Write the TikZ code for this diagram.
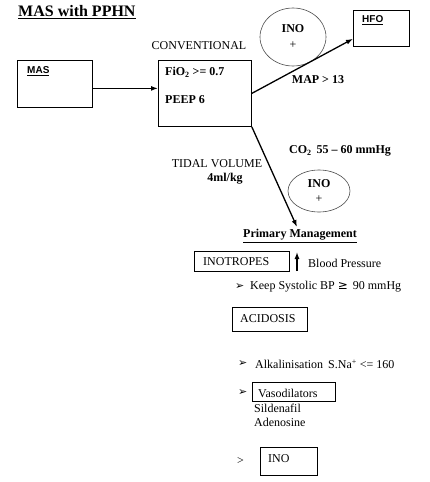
\documentclass[tikz,border=0pt]{standalone}
\usepackage{fontspec}
\setmainfont{Liberation Serif}
\newfontfamily\arialfont{Liberation Sans}
\newfontfamily\symfont{DejaVu Sans}
\usetikzlibrary{arrows.meta,shapes.geometric}
\tikzset{
    box/.style={draw, line width=0.8pt, inner sep=0pt, anchor=north west},
    txt/.style={inner sep=0pt, font=\fontsize{12}{14}\selectfont},
    btxt/.style={txt, font=\fontsize{12}{14}\selectfont\bfseries},
    lefttxt/.style={txt, anchor=west},
    inoring/.style={draw=gray!60!black, text=black, ellipse, line width=0.6pt, align=center, inner sep=0pt, font=\fontsize{12}{14}\selectfont},
    flow/.style={-{Latex[length=7pt,width=5pt]}, line width=1.3pt},
}
\begin{document}
\begin{tikzpicture}[x=1pt, y=-1pt]
        \useasboundingbox (0,0) rectangle (430,482);
        % タイトル
        \node[btxt, anchor=west, font=\fontsize{16}{18}\selectfont\bfseries] (title) at (18,12) {\underline{MAS with PPHN}};

        % 上段の箱
        \node[box, minimum width=75pt, minimum height=47pt] (mas) at (17,60) {};
        \node[inner sep=0pt, anchor=west, font=\arialfont\fontsize{10}{12}\selectfont\bfseries] (mastxt) at (27,71) {\underline{MAS}};
        \node[box, minimum width=93pt, minimum height=66pt] (conv) at (158,60) {};
        \node[btxt, anchor=west] (fio) at (165,72) {FiO\textsubscript{2} >= 0.7};
        \node[btxt, anchor=west] (peep) at (165,100) {PEEP 6};
        \node[txt] (convtxt) at (199,46) {CONVENTIONAL};
        \node[box, minimum width=56pt, minimum height=36pt] (hfo) at (353,10) {};
        \node[inner sep=0pt, anchor=west, font=\arialfont\fontsize{10}{12}\selectfont\bfseries] (hfotxt) at (362,20) {\underline{HFO}};

        % INO の楕円
        \node[inoring, minimum width=66pt, minimum height=58pt] (ino1) at (293,37) {\textbf{INO}\\[2pt]+};
        \node[inoring, minimum width=62pt, minimum height=42pt] (ino2) at (319,191) {\textbf{INO}\\[1pt]+};

        % 矢印
        \draw[flow] ([yshift=-4.5pt]mas.east) -- ([yshift=-4.5pt]mas.east -| conv.west);
        \draw[flow] (conv.east) -- ([yshift=8pt]hfo.south west);
        \coordinate (pmtop) at (297,227);
        \draw[flow] (conv.south east) -- (pmtop);
        \node[btxt] (map) at (318,80) {MAP > 13};
        \node[txt] (tidal) at (217,164) {TIDAL VOLUME};
        \node[btxt] (tvval) at (225,179) {4ml/kg};
        \node[btxt] (co2) at (340,151) {CO\textsubscript{2}\, 55 -- 60 mmHg};

        % 初期管理
        \node[btxt] (primary) at (300,236) {\underline{Primary Management}};
        \node[box, minimum width=95pt, minimum height=20pt] (inotr) at (194,251) {};
        \node[lefttxt] (inotrtxt) at (203,262) {INOTROPES};
        \coordinate (bplow) at (297,271);
        \coordinate (bphigh) at (297,252);
        \draw[flow] (bplow) -- (bphigh);
        \node[lefttxt] (bp) at (308,263) {Blood Pressure};
        \node[lefttxt] (keep) at (250,287) {Keep Systolic BP {\symfont≥}\, 90 mmHg};
        \node[box, minimum width=75pt, minimum height=24pt] (acid) at (232,307) {};
        \node[lefttxt] (acidtxt) at (240,319) {ACIDOSIS};
        \node[lefttxt] (alk) at (255,364) {Alkalinisation\, S.Na\textsuperscript{+} <= 160};
        \node[lefttxt] (vasotxt) at (258,393) {Vasodilators};
        \node[box, minimum width=83pt, minimum height=19pt] (vaso) at (252,382) {};
        \node[lefttxt] (silden) at (254,408) {Sildenafil};
        \node[lefttxt] (adeno) at (254,422) {Adenosine};
        \node[lefttxt] (gt) at (237,461) {>};
        \node[box, minimum width=57pt, minimum height=28pt] (inobox) at (260,447) {};
        \node[lefttxt] (inotxt) at (268,459) {INO};

        % 箇条書きの記号
        \foreach \x/\y/\nm in {235/287/b1, 238/364/b2, 238/393/b3}
            \node[inner sep=0pt, anchor=west, font=\symfont\fontsize{11}{13}\selectfont] (\nm) at (\x,\y) {➢};
\end{tikzpicture}
\end{document}
